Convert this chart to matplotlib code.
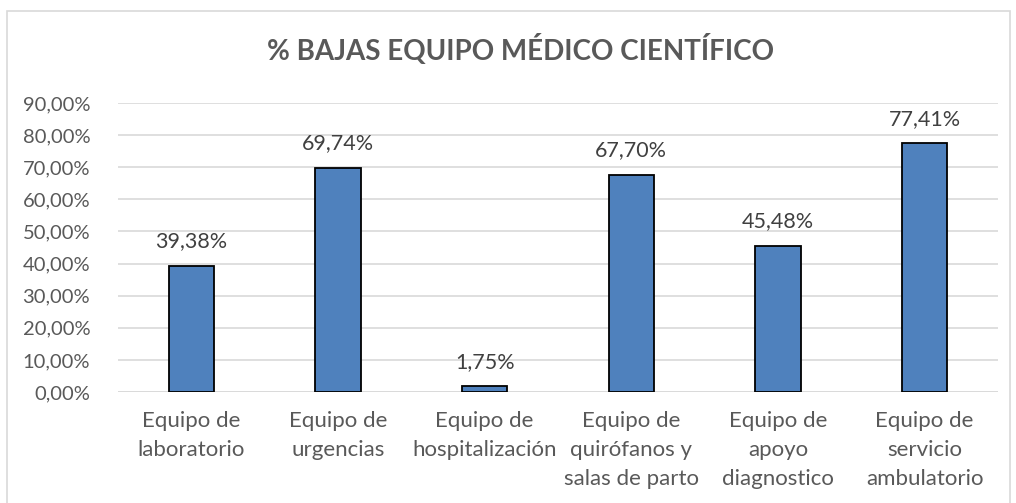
import matplotlib
matplotlib.use("Agg")
import matplotlib.pyplot as plt
from matplotlib.patches import Rectangle

categories = ["Equipo de\nlaboratorio", "Equipo de\nurgencias", "Equipo de\nhospitalización",
              "Equipo de\nquirófanos y\nsalas de parto", "Equipo de\napoyo\ndiagnostico",
              "Equipo de\nservicio\nambulatorio"]
values = [39.38, 69.74, 1.75, 67.70, 45.48, 77.41]
yticks = [0, 10, 20, 30, 40, 50, 60, 70, 80, 90]

plt.rcParams["font.family"] = ["Lato", "DejaVu Sans"]
TXT = "#595959"
BLUE = "#4f81bd"

fig = plt.figure(figsize=(10.16, 5.03), dpi=100)
fig.patches.append(Rectangle((7 / 1016, -0.01), 1003 / 1016, 1 - 11 / 503 + 0.01,
                             transform=fig.transFigure, fill=False,
                             edgecolor="#d9d9d9", lw=1.2))
ax = fig.add_axes([118 / 1016, 1 - 392 / 503, 880 / 1016, 289 / 503])
x = range(len(values))
ax.bar(x, values, width=0.31, color=BLUE, edgecolor="black", lw=1.3, zorder=3)
for i, v in zip(x, values):
    ax.text(i, v + 4.6, f"{v:.2f}".replace(".", ",") + "%", ha="center", va="bottom",
            fontsize=15.5, color="#404040")
ax.set_xlim(-0.5, len(values) - 0.5)
ax.set_ylim(0, 90)
ax.set_yticks(yticks)
ax.set_yticklabels([f"{t:.2f}".replace(".", ",") + "%" for t in yticks])
ax.set_xticks(list(x))
ax.set_xticklabels(categories, linespacing=1.55)
ax.tick_params(axis="both", length=0, labelcolor=TXT)
ax.tick_params(axis="x", pad=14, labelsize=16)
ax.tick_params(axis="y", pad=20, labelsize=14.5)
ax.grid(axis="y", color="#d9d9d9", lw=1.2, zorder=0)
for s in ax.spines.values():
    s.set_visible(False)
ax.axhline(0, color="#d9d9d9", lw=1.2, zorder=1)
fig.text(0.512, 1 - 50 / 503, "% BAJAS EQUIPO MÉDICO CIENTÍFICO", ha="center", va="center",
         fontsize=20, fontweight="bold", color=TXT)
fig.savefig("out.png", dpi=100)
